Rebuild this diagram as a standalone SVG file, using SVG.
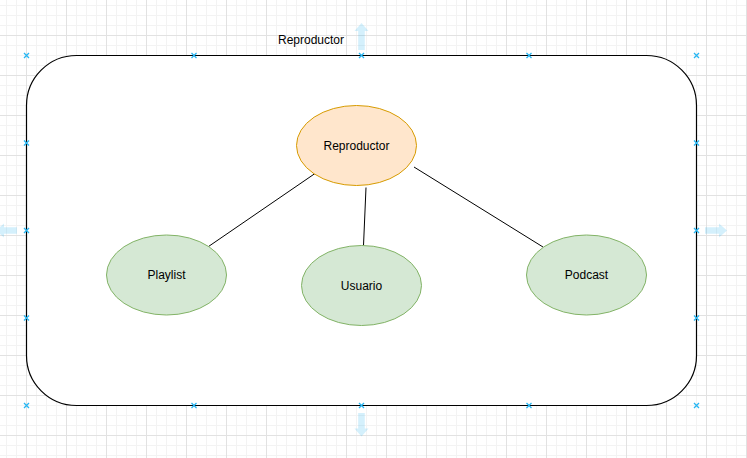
<svg xmlns="http://www.w3.org/2000/svg" width="747" height="458" viewBox="0 0 747 458">
  <defs>
    <pattern id="grid" patternUnits="userSpaceOnUse" x="26" y="35" width="40" height="40">
      <path d="M10.5 0V40M20.5 0V40M30.5 0V40M0 10.5H40M0 20.5H40M0 30.5H40" stroke="#f3f3f3" stroke-width="1" fill="none"/>
      <path d="M0.5 0V40M0 0.5H40" stroke="#e2e2e2" stroke-width="1" fill="none"/>
    </pattern>
    <g id="handle">
      <path d="M-2.5 -2.5L2.5 2.5M-2.5 2.5L2.5 -2.5" stroke="#29b6f2" stroke-width="1.3" fill="none"/>
    </g>
  </defs>
  <style>
    text { font-family: "Liberation Sans", Arial, Helvetica, sans-serif; font-size: 12px; fill: #000; }
    .lbl { text-anchor: middle; dominant-baseline: central; }
    .main { fill: #ffe6cc; stroke: #d79b00; stroke-width: 1; }
    .sub { fill: #d5e8d4; stroke: #82b366; stroke-width: 1; }
    .edge { stroke: #000; stroke-width: 1; fill: none; }
    .hint { fill: #29b6f2; fill-opacity: 0.2; }
  </style>
  <rect x="0" y="0" width="747" height="458" fill="#ffffff"/>
  <rect x="0" y="0" width="747" height="458" fill="url(#grid)"/>

  <g id="container">
    <rect x="26.5" y="55.5" width="670" height="350" rx="50" ry="50" fill="#ffffff" stroke="#000000" stroke-width="1.2"/>
    <text x="278" y="44">Reproductor</text>
  </g>

  <g id="connectors">
    <line class="edge" x1="315" y1="173.5" x2="208.5" y2="246.5"/>
    <line class="edge" x1="366" y1="187.5" x2="363.5" y2="245.5"/>
    <line class="edge" x1="414" y1="167" x2="543" y2="247"/>
  </g>

  <g id="node-reproductor">
    <ellipse class="main" cx="356.5" cy="145.5" rx="60" ry="40"/>
    <text class="lbl" x="356.5" y="145.5">Reproductor</text>
  </g>
  <g id="node-playlist">
    <ellipse class="sub" cx="166.5" cy="275" rx="60" ry="40"/>
    <text class="lbl" x="166.5" y="275">Playlist</text>
  </g>
  <g id="node-usuario">
    <ellipse class="sub" cx="361.5" cy="285.5" rx="60" ry="40"/>
    <text class="lbl" x="361.5" y="285.5">Usuario</text>
  </g>
  <g id="node-podcast">
    <ellipse class="sub" cx="586.5" cy="275" rx="60" ry="40"/>
    <text class="lbl" x="586.5" y="275">Podcast</text>
  </g>

  <g id="selection">
    <path class="hint" d="M361.5 23L368.5 31H364.8V50H358.2V31H354.5Z"/>
    <path class="hint" d="M361.5 436.5L368.5 428.5H364.8V413H358.2V428.5H354.5Z"/>
    <path class="hint" d="M-4 230.5L4 223.5V227.2H17V233.8H4V237.5Z"/>
    <path class="hint" d="M727 230.5L719 223.5V227.2H705V233.8H719V237.5Z"/>
    <use href="#handle" transform="translate(26.5,55.5)"/>
    <use href="#handle" transform="translate(194,55.5)"/>
    <use href="#handle" transform="translate(361.5,55.5)"/>
    <use href="#handle" transform="translate(529,55.5)"/>
    <use href="#handle" transform="translate(696.5,55.5)"/>
    <use href="#handle" transform="translate(26.5,405.5)"/>
    <use href="#handle" transform="translate(194,405.5)"/>
    <use href="#handle" transform="translate(361.5,405.5)"/>
    <use href="#handle" transform="translate(529,405.5)"/>
    <use href="#handle" transform="translate(696.5,405.5)"/>
    <use href="#handle" transform="translate(26.5,143)"/>
    <use href="#handle" transform="translate(26.5,230.5)"/>
    <use href="#handle" transform="translate(26.5,318)"/>
    <use href="#handle" transform="translate(696.5,143)"/>
    <use href="#handle" transform="translate(696.5,230.5)"/>
    <use href="#handle" transform="translate(696.5,318)"/>
  </g>
</svg>
